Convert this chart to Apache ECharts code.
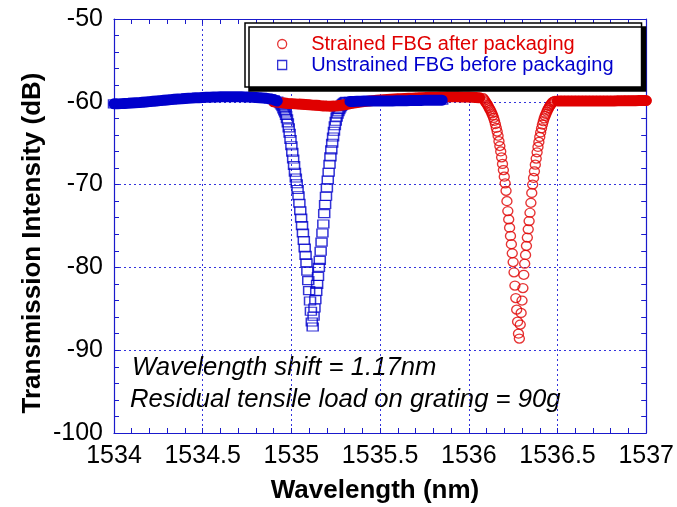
<!DOCTYPE html>
<html>
<head>
<meta charset="utf-8">
<script src="https://cdn.jsdelivr.net/npm/echarts@6/dist/echarts.min.js"></script>
<style>
  html, body { margin: 0; padding: 0; background: #fff; }
  #chart { width: 677px; height: 507px; }
</style>
</head>
<body>
<div id="chart"></div>
<script>
// OSA sweeps (wavelength in nm, intensity in dB)
var coarseStep = 0.02, fineStep = 0.005;

// unstrained FBG (blue squares)
var blueFlatAStart = 1534.00;
var blueFlatA = [-60.25,-60.25,-60.22,-60.2,-60.18,-60.15,-60.12,-60.1,-60.06,-60.02,
  -59.98,-59.94,-59.9,-59.86,-59.82,-59.78,-59.74,-59.7,-59.67,-59.64,
  -59.6,-59.57,-59.55,-59.52,-59.5,-59.48,-59.46,-59.44,-59.42,-59.41,
  -59.4,-59.39,-59.38,-59.38,-59.38,-59.39,-59.4,-59.41,-59.43,-59.45,
  -59.47,-59.5,-59.54,-59.58,-59.65,-59.75,-59.9];
var blueDipStart = 1534.93;
var blueDip = [-60.05,-60.15,-60.25,-60.4,-60.6,-60.85,-61.1,-61.35,-61.65,-62.05,
  -62.55,-63.15,-63.8,-64.55,-65.3,-66.1,-66.9,-67.7,-68.5,-69.2,
  -69.9,-70.6,-71.35,-72.25,-73.15,-74.05,-74.95,-75.85,-76.75,-77.65,
  -78.55,-79.45,-80.45,-81.6,-82.8,-84.05,-85.3,-86.6,-87.2,-85.9,
  -84.9,-83.9,-82.9,-82.05,-81.1,-80.0,-79.15,-78.05,-76.95,-75.85,
  -74.75,-73.5,-72.4,-71.4,-70.4,-69.45,-68.5,-67.55,-66.65,-65.8,
  -65.0,-64.25,-63.55,-62.9,-62.35,-61.85,-61.5,-61.2,-60.95,-60.75,
  -60.55,-60.4,-60.25,-60.15,-60.05,-60.0,-59.95];
var blueFlatBStart = 1535.33;
var blueFlatB = [-59.95,-59.95,-59.93,-59.92,-59.9,-59.9,-59.9,-59.9,-59.9,-59.9,
  -59.9,-59.9,-59.9,-59.88,-59.88,-59.87,-59.86,-59.85,-59.85,-59.84,
  -59.83,-59.82,-59.82,-59.81,-59.8,-59.8,-59.8];

// strained FBG (red circles)
var redFlatAStart = 1534.90;
var redFlatA = [-60.0,-60.05,-60.1,-60.15,-60.2,-60.22,-60.25,-60.28,-60.3,-60.33,
  -60.36,-60.4,-60.43,-60.46,-60.5,-60.52,-60.53,-60.52,-60.48,-60.42,
  -60.35,-60.28,-60.2,-60.12,-60.05,-60.0,-59.95,-59.9,-59.86,-59.82,
  -59.79,-59.76,-59.73,-59.7,-59.67,-59.64,-59.62,-59.6,-59.58,-59.56,
  -59.54,-59.52,-59.5,-59.48,-59.46,-59.45,-59.44,-59.42,-59.41,-59.4,
  -59.4,-59.4,-59.4,-59.41,-59.42,-59.43,-59.45,-59.48,-59.52];
var redDipStart = 1536.08;
var redDip = [-59.55,-59.7,-59.85,-60.05,-60.2,-60.35,-60.55,-60.75,-60.95,-61.15,
  -61.4,-61.65,-61.95,-62.3,-62.7,-63.15,-63.6,-64.1,-64.75,-65.35,
  -66.0,-66.7,-67.5,-68.25,-69.05,-69.85,-70.75,-72.0,-73.2,-74.2,
  -75.2,-76.2,-77.2,-78.3,-79.35,-80.6,-82.2,-83.7,-85.1,-86.55,
  -88.0,-88.6,-86.9,-85.5,-84.0,-82.5,-80.9,-79.55,-78.5,-77.4,
  -76.4,-75.4,-74.4,-73.4,-72.2,-71.0,-70.0,-69.2,-68.4,-67.6,
  -66.85,-66.1,-65.45,-64.85,-64.25,-63.7,-63.2,-62.75,-62.35,-62.0,
  -61.7,-61.45,-61.2,-60.95,-60.75,-60.55,-60.4,-60.25,-60.1,-60.0,
  -59.95,-59.9];
var redFlatBStart = 1536.50;
var redFlatB = [-59.9,-59.9,-59.9,-59.9,-59.9,-59.9,-59.9,-59.9,-59.9,-59.9,
  -59.9,-59.9,-59.9,-59.9,-59.9,-59.9,-59.9,-59.88,-59.88,-59.87,
  -59.87,-59.86,-59.86,-59.85,-59.85,-59.85];

var seriesNames = ['Strained FBG after packaging', 'Unstrained FBG before packaging'];
var noteLines = ['Wavelength shift = 1.17nm', 'Residual tensile load on grating = 90g'];

var red = '#e00000', blue = '#0000cc', axisBlue = '#1a1acc';
var fam = '"Liberation Sans", Arial, sans-serif';

function toPairs(start, step, vals) {
    return vals.map(function (v, i) { return [+(start + i * step).toFixed(3), v]; });
}

var redA = toPairs(redFlatAStart, coarseStep, redFlatA),
    redD = toPairs(redDipStart, fineStep, redDip),
    redB = toPairs(redFlatBStart, coarseStep, redFlatB);
var blueA = toPairs(blueFlatAStart, coarseStep, blueFlatA),
    blueD = toPairs(blueDipStart, fineStep, blueDip),
    blueB = toPairs(blueFlatBStart, coarseStep, blueFlatB);

var chart = echarts.init(document.getElementById('chart'));

function mirrorAxis(pos, isX) {
    return {
        type: 'value', position: pos,
        min: isX ? 1534 : -100, max: isX ? 1537 : -50, interval: isX ? 0.5 : 10,
        axisLine: { show: true, onZero: false, lineStyle: { color: axisBlue, width: 1.2 } },
        axisTick: { show: true, inside: true, length: 5, lineStyle: { color: axisBlue } },
        minorTick: { show: true, splitNumber: 5, length: 5, lineStyle: { color: axisBlue } },
        axisLabel: { show: false },
        splitLine: { show: false }
    };
}

// where the sweep is flat the markers pile up into a solid band
function band(data, color) {
    return {
        type: 'line', data: data, symbol: 'none', silent: true, clip: false,
        lineStyle: { color: color, width: 11, cap: 'round', join: 'round' }
    };
}

function marks(name, data, symbol, size, color) {
    return {
        name: name, type: 'scatter', clip: false, symbol: symbol, symbolSize: size,
        itemStyle: { color: 'rgba(0,0,0,0)', borderColor: color, borderWidth: 1.3 },
        data: data
    };
}

var option = {
    animation: false,
    backgroundColor: '#fff',
    grid: { left: 114, right: 29, top: 19, bottom: 74 },
    xAxis: [{
        type: 'value', min: 1534, max: 1537, interval: 0.5,
        axisLine: { onZero: false, lineStyle: { color: axisBlue, width: 1.2 } },
        axisTick: { inside: true, length: 5, lineStyle: { color: axisBlue } },
        minorTick: { show: true, splitNumber: 5, length: 5, lineStyle: { color: axisBlue } },
        axisLabel: { color: '#000', fontSize: 25, fontFamily: fam, margin: 11,
            formatter: function (v) { return String(v); } },
        splitLine: { show: true, lineStyle: { color: '#3333dd', type: [2, 3], width: 1 } }
    }, mirrorAxis('top', true)],
    yAxis: [{
        type: 'value', min: -100, max: -50, interval: 10,
        axisLine: { onZero: false, lineStyle: { color: axisBlue, width: 1.2 } },
        axisTick: { inside: true, length: 5, lineStyle: { color: axisBlue } },
        minorTick: { show: true, splitNumber: 5, length: 5, lineStyle: { color: axisBlue } },
        axisLabel: { color: '#000', fontSize: 25, fontFamily: fam, margin: 11 },
        splitLine: { show: true, lineStyle: { color: '#3333dd', type: [2, 3], width: 1 } }
    }, mirrorAxis('right', false)],
    legend: {
        orient: 'vertical', left: 245, top: 23,
        padding: [11, 28, 12, 32],
        itemWidth: 48, itemHeight: 9, itemGap: 1,
        backgroundColor: '#fff', borderColor: '#000', borderWidth: 1.5,
        shadowColor: '#000', shadowBlur: 0, shadowOffsetX: 4, shadowOffsetY: 4,
        textStyle: { fontSize: 20, fontFamily: fam, lineHeight: 20 },
        data: [
            { name: seriesNames[0], icon: 'circle',
              itemStyle: { color: 'rgba(0,0,0,0)', borderColor: red, borderWidth: 1.3 },
              textStyle: { color: red } },
            { name: seriesNames[1], icon: 'path://M0,0H10V10H0Z',
              itemStyle: { color: 'rgba(0,0,0,0)', borderColor: blue, borderWidth: 1.3 },
              textStyle: { color: blue } }
        ]
    },
    graphic: [
        { type: 'text', x: 132, y: 368, style: { text: noteLines[0], fill: '#000',
            font: 'italic 25.7px ' + fam, textAlign: 'left', textVerticalAlign: 'middle' } },
        { type: 'text', x: 130, y: 400, style: { text: noteLines[1], fill: '#000',
            font: 'italic 25.7px ' + fam, textAlign: 'left', textVerticalAlign: 'middle' } },
        { type: 'text', x: 375, y: 491, style: { text: 'Wavelength (nm)', fill: '#000',
            font: 'bold 26px ' + fam, textAlign: 'center', textVerticalAlign: 'middle' } },
        { type: 'text', x: 33, y: 243, rotation: Math.PI / 2,
          style: { text: 'Transmission Intensity (dB)', fill: '#000',
            font: 'bold 26px ' + fam, textAlign: 'center', textVerticalAlign: 'middle' } }
    ],
    series: [
        band(redA, red), band(redB, red),
        marks(seriesNames[0], [].concat(redA, redD, redB), 'circle', [10, 9], red),
        band(blueA, blue), band(blueB, blue),
        marks(seriesNames[1], [].concat(blueA, blueD, blueB), 'rect', [11, 8], blue)
    ]
};

chart.setOption(option);
</script>
</body>
</html>
